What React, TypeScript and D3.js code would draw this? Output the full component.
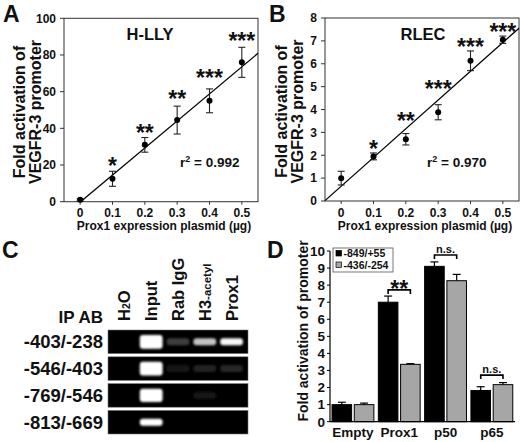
import React from 'react';
import * as d3 from 'd3';

const FONT = '"Liberation Sans", Arial, Helvetica, sans-serif';
const INK = '#111';

// shared x values for panels A and B
const doses = [0, 0.1, 0.2, 0.3, 0.4, 0.5];
const doseTickLabels = ['0', '0.1', '0.2', '0.3', '0.4', '0.5'];

// panel A (H-LLY)
const hllyMean = [1, 12.5, 31, 44.5, 55, 76];
const hllyErr = [0.6, 4.1, 4, 7.6, 6.5, 8.2];
const hllyStars = ['', '*', '**', '**', '***', '***'];
const hllyStarAt = [0, 15.6, 33.6, 52.2, 63.6, 83.8];
const hllyTicks = [0, 20, 40, 60, 80, 100];

// panel B (RLEC)
const rlecMean = [1.0, 1.95, 2.7, 3.88, 6.13, 7.05];
const rlecErr = [0.3, 0.15, 0.25, 0.33, 0.43, 0.16];
const rlecStars = ['', '*', '**', '***', '***', '***'];
const rlecStarAt = [0, 1.96, 3.18, 4.58, 6.41, 7.1];
const rlecTicks = [0, 1, 2, 3, 4, 5, 6, 7, 8];

// panel C (ChIP gel)
const lanes = ['H2O', 'Input', 'Rab IgG', 'H3-acetyl', 'Prox1'];
const amplicons = ['-403/-238', '-546/-403', '-769/-546', '-813/-669'];
// band signal per amplicon x lane (>1 = saturated, thicker band)
const bandSignal = [
  [0, 2.5, 0.24, 0.76, 0.97],
  [0, 2.5, 0.09, 0.13, 0.15],
  [0, 2.4, 0, 0.07, 0],
  [0, 1.0, 0, 0, 0],
];

// panel D (promoter constructs)
const constructs = ['Empty', 'Prox1', 'p50', 'p65'];
const series = ['-849/+55', '-436/-254'];
const longMean = [1.0, 7.0, 9.1, 1.83];
const longErr = [0.14, 0.36, 0.26, 0.22];
const shortMean = [1.0, 3.36, 8.26, 2.17];
const shortErr = [0.09, 0.04, 0.37, 0.12];
const dTicks = [0, 1, 2, 3, 4, 5, 6, 7, 8, 9, 10];
const comparisons = [
  { group: 'Prox1', label: '**', at: 7.72 },
  { group: 'p50', label: 'n.s.', at: 9.77 },
  { group: 'p65', label: 'n.s.', at: 2.73 },
];

type ScatterProps = {
  letter: string;
  letterX: number;
  title: string;
  titleX: number;
  r2: string;
  r2X: number;
  xRange: [number, number];
  yDomain: [number, number];
  yRange: [number, number];
  yTicks: number[];
  means: number[];
  errs: number[];
  stars: string[];
  starAt: number[];
  labelX: [number, number];
};

function ScatterPanel(p: ScatterProps) {
  const x = d3.scaleLinear().domain([-0.05, 0.55]).range(p.xRange);
  const y = d3.scaleLinear().domain(p.yDomain).range(p.yRange);
  const [left, right] = p.xRange;
  const [bottom, top] = p.yRange;

  // least squares fit through the points
  const mx = d3.mean(doses)!;
  const my = d3.mean(p.means)!;
  const sxy = d3.sum(doses, (d, i) => (d - mx) * (p.means[i] - my));
  const sxx = d3.sum(doses, (d) => (d - mx) ** 2);
  const slope = sxy / sxx;
  const icpt = my - slope * mx;
  const fx0 = Math.max(-0.05, -icpt / slope);
  const fit = d3.line<number>().x((d) => x(d)).y((d) => y(icpt + slope * d));

  const midY = (top + bottom) / 2 + 2;
  const cap = 3.5;

  return (
    <g>
      <text x={p.letterX} y={22} fontSize={23} fill={INK}>{p.letter}</text>

      {/* y axis title */}
      <text transform={`translate(${p.labelX[0]},${midY}) rotate(-90)`} textAnchor="middle" fontSize={16} fill={INK}>
        Fold activation of
      </text>
      <text transform={`translate(${p.labelX[1]},${midY}) rotate(-90)`} textAnchor="middle" fontSize={16} fill={INK}>
        VEGFR-3 promoter
      </text>

      {/* frame */}
      <rect x={left} y={top} width={right - left} height={bottom - top} fill="none" stroke="#333" strokeWidth={1} />

      {p.yTicks.map((t) => (
        <g key={t}>
          <line x1={left - 4} x2={left} y1={y(t)} y2={y(t)} stroke="#333" />
          <text x={left - 8} y={y(t)} dy="0.36em" textAnchor="end" fontSize={12} fill={INK}>{t}</text>
        </g>
      ))}
      {doses.map((d, i) => (
        <g key={d}>
          <line x1={x(d)} x2={x(d)} y1={bottom} y2={bottom + 3} stroke="#333" />
          <text x={x(d)} y={217} textAnchor="middle" fontSize={12} fill={INK}>{doseTickLabels[i]}</text>
        </g>
      ))}
      <text x={(left + right) / 2 + 3} y={230} textAnchor="middle" fontSize={12} fill={INK}>
        Prox1 expression plasmid (µg)
      </text>

      <path d={fit([fx0, 0.55])!} fill="none" stroke="#000" strokeWidth={1.3} />

      {doses.map((d, i) => {
        const cx = x(d);
        const hi = y(p.means[i] + p.errs[i]);
        const lo = y(p.means[i] - p.errs[i]);
        return (
          <g key={d}>
            <line x1={cx} x2={cx} y1={hi} y2={lo} stroke="#222" strokeWidth={1.1} />
            <line x1={cx - cap} x2={cx + cap} y1={hi} y2={hi} stroke="#222" strokeWidth={1.1} />
            <line x1={cx - cap} x2={cx + cap} y1={lo} y2={lo} stroke="#222" strokeWidth={1.1} />
            <circle cx={cx} cy={y(p.means[i])} r={3} fill="#000" />
            {p.stars[i] && (
              <text x={cx} y={y(p.starAt[i]) + 1} textAnchor="middle" fontSize={23} fill={INK}>{p.stars[i]}</text>
            )}
          </g>
        );
      })}

      <text x={p.titleX} y={40} textAnchor="middle" fontSize={16.5} fill={INK}>{p.title}</text>
      <text x={p.r2X} y={166.5} fontSize={13.5} fill={INK}>
        r<tspan dy={-5} fontSize={9}>2</tspan>
        <tspan dy={5}> = {p.r2}</tspan>
      </text>
    </g>
  );
}

function GelPanel() {
  const rowScale = d3.scaleBand<string>().domain(amplicons).range([330, 434]).paddingInner(0.12);
  const laneScale = d3.scaleBand<string>().domain(lanes).range([111, 245]);
  const lc = (l: string) => laneScale(l)! + laneScale.bandwidth() / 2;
  const bandW = laneScale.bandwidth() * 0.85;

  const laneLabel = (l: string) => {
    if (l === 'H2O')
      return (
        <>
          H<tspan fontSize={10.5}>2</tspan>O
        </>
      );
    if (l === 'H3-acetyl')
      return (
        <>
          H3<tspan fontSize={11.5}>-acetyl</tspan>
        </>
      );
    return l;
  };

  return (
    <g>
      <defs>
        <filter id="bandBlur" x="-20%" y="-50%" width="140%" height="200%">
          <feGaussianBlur stdDeviation={0.8} />
        </filter>
      </defs>
      <text x={2} y={258} fontSize={23} fill={INK}>C</text>
      <text x={103} y={323} textAnchor="end" fontSize={17} fill={INK}>IP AB</text>

      {lanes.map((l) => (
        <text key={l} transform={`translate(${lc(l) + 6},321) rotate(-90)`} fontSize={16.5} fill={INK}>
          {laneLabel(l)}
        </text>
      ))}

      {amplicons.map((a, r) => {
        const y0 = rowScale(a)!;
        const h = rowScale.bandwidth();
        const cy = y0 + h / 2;
        return (
          <g key={a}>
            <text x={103} y={cy + 6.5} textAnchor="end" fontSize={18.5} fill={INK}>{a}</text>
            <rect x={108} y={y0} width={140} height={h} fill="#000" stroke="#777" strokeWidth={0.6} />
            {lanes.map((l, j) => {
              const v = bandSignal[r][j];
              if (v <= 0) return null;
              const level = Math.min(1, v);
              const bh = v > 1 ? 7 + (v - 1) * 4.5 : 7;
              const g = Math.round(255 * level);
              return (
                <rect
                  key={l}
                  x={lc(l) - bandW / 2}
                  y={cy - bh / 2}
                  width={bandW}
                  height={bh}
                  rx={3}
                  fill={`rgb(${g},${g},${g})`}
                  filter="url(#bandBlur)"
                />
              );
            })}
          </g>
        );
      })}
    </g>
  );
}

function BarPanel() {
  const left = 330;
  const x0 = d3.scaleBand<string>().domain(constructs).range([329.8, 515]);
  const x1 = d3.scaleBand<string>().domain(series).range([0, x0.bandwidth()]).paddingInner(0.12).paddingOuter(0.1);
  const y = d3.scaleLinear().domain([0, 10]).range([421.7, 251]);
  const fills = ['#000', '#a6a6a6'];
  const means = [longMean, shortMean];
  const errs = [longErr, shortErr];
  const cap = 4;
  const barC = (c: string, s: string) => x0(c)! + x1(s)! + x1.bandwidth() / 2;

  return (
    <g>
      <text x={267} y={258} fontSize={23} fill={INK}>D</text>
      <text transform="translate(308,331) rotate(-90)" textAnchor="middle" fontSize={14} fill={INK}>
        Fold activation of promoter
      </text>

      {constructs.map((c, i) => (
        <g key={c}>
          {series.map((s, k) => {
            const bx = x0(c)! + x1(s)!;
            const top = y(means[k][i]);
            const et = y(means[k][i] + errs[k][i]);
            const cx = bx + x1.bandwidth() / 2;
            return (
              <g key={s}>
                <line x1={cx} x2={cx} y1={top} y2={et} stroke="#000" strokeWidth={1.2} />
                <line x1={cx - cap} x2={cx + cap} y1={et} y2={et} stroke="#000" strokeWidth={1.2} />
                <rect x={bx} y={top} width={x1.bandwidth()} height={y(0) - top} fill={fills[k]} stroke="#000" strokeWidth={1} />
              </g>
            );
          })}
          <text x={x0(c)! + x0.bandwidth() / 2} y={437} textAnchor="middle" fontSize={13.5} fill={INK}>{c}</text>
        </g>
      ))}

      <line x1={left} x2={left} y1={y(10)} y2={y(0)} stroke="#000" strokeWidth={1.2} />
      <line x1={left} x2={515} y1={y(0)} y2={y(0)} stroke="#000" strokeWidth={1.2} />
      {dTicks.map((t) => (
        <g key={t}>
          <line x1={left - 3} x2={left} y1={y(t)} y2={y(t)} stroke="#000" />
          <text x={325} y={y(t)} dy="0.36em" textAnchor="end" fontSize={13.5} fill={INK}>{t}</text>
        </g>
      ))}

      {comparisons.map((cmp) => {
        const xa = barC(cmp.group, series[0]);
        const xb = barC(cmp.group, series[1]);
        const by = y(cmp.at);
        const stars = cmp.label.startsWith('*');
        return (
          <g key={cmp.group}>
            <path d={`M${xa},${by + 4}V${by}H${xb}V${by + 4}`} fill="none" stroke="#000" strokeWidth={1.6} />
            <text x={(xa + xb) / 2} y={stars ? by + 7.5 : by - 1.8} textAnchor="middle" fontSize={stars ? 23 : 11} fill={INK}>
              {cmp.label}
            </text>
          </g>
        );
      })}

      {/* legend */}
      <rect x={333} y={248} width={60} height={24} fill="#fff" stroke="#555" strokeWidth={0.8} />
      {series.map((s, k) => (
        <g key={s}>
          <rect x={336} y={250.5 + k * 11.5} width={5.5} height={5.5} fill={fills[k]} stroke="#000" strokeWidth={0.7} />
          <text x={343.5} y={257 + k * 11.5} fontSize={10.5} fill={INK}>{s}</text>
        </g>
      ))}
    </g>
  );
}

export default function App() {
  return (
    <div style={{ position: 'absolute', left: 0, top: 0 }}>
      <svg width={520} height={442} viewBox="0 0 520 442" style={{ display: 'block', background: '#fff' }} fontFamily={FONT} fontWeight="bold">
        <ScatterPanel
          letter="A"
          letterX={3}
          title="H-LLY"
          titleX={150}
          r2="0.992"
          r2X={180}
          xRange={[64, 258]}
          yDomain={[0, 100]}
          yRange={[201.7, 18.3]}
          yTicks={hllyTicks}
          means={hllyMean}
          errs={hllyErr}
          stars={hllyStars}
          starAt={hllyStarAt}
          labelX={[25, 41]}
        />
        <ScatterPanel
          letter="B"
          letterX={269}
          title="RLEC"
          titleX={423}
          r2="0.970"
          r2X={427}
          xRange={[325, 519]}
          yDomain={[0, 8]}
          yRange={[201, 18]}
          yTicks={rlecTicks}
          means={rlecMean}
          errs={rlecErr}
          stars={rlecStars}
          starAt={rlecStarAt}
          labelX={[287, 303]}
        />
        <GelPanel />
        <BarPanel />
      </svg>
    </div>
  );
}
